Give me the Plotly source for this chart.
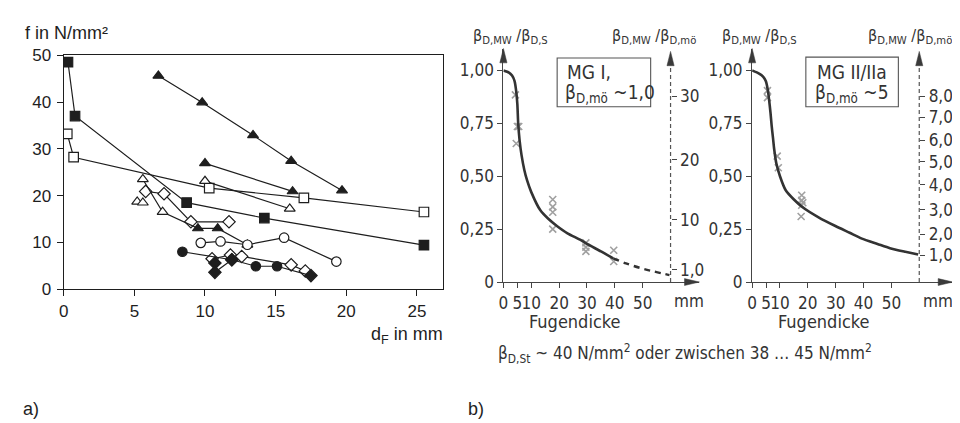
import plotly.graph_objects as go

W, H = 960, 423

# ---------------- chart a) data (d_F in mm, f in N/mm²) ----------------
sqf_x = [0.3, 0.8, 8.7, 14.2, 25.5]
sqf_y = [48.5, 37.0, 18.5, 15.2, 9.4]
sqo_x = [0.25, 0.7, 10.3, 17.0, 25.5]
sqo_y = [33.2, 28.2, 21.6, 19.5, 16.5]
trf1_x = [6.7, 9.8, 13.4, 16.1, 19.7]
trf1_y = [45.6, 39.9, 32.9, 27.4, 21.1]
trf2_x = [10.0, 16.2]
trf2_y = [26.9, 20.9]
tro1_x = [10.0, 16.0]
tro1_y = [23.1, 17.2]
tro2_x = [5.2, 5.6]
tro2_y = [18.7, 18.5]
trmix_x = [5.6, 7.0, 9.5, 10.9, 13.0]
trmix_y = [23.5, 16.5, 13.0, 13.0, 9.5]
dio1_x = [5.8, 7.1, 9.0, 11.7]
dio1_y = [20.9, 20.4, 14.4, 14.4]
cio_x = [9.7, 11.1, 13.0, 15.6, 19.3]
cio_y = [9.9, 10.2, 9.5, 11.0, 5.9]
cif_x = [8.4, 11.9, 13.6, 15.1, 17.5]
cif_y = [8.0, 6.3, 4.9, 4.9, 2.9]
dif_x = [10.7, 10.7, 11.9]
dif_y = [5.6, 3.6, 6.3]
dio2_x = [10.5, 11.8, 12.6, 16.1, 17.1]
dio2_y = [6.5, 7.3, 7.0, 5.2, 3.9]

a_xticks = [0, 5, 10, 15, 20, 25]
a_yticks = [0, 10, 20, 30, 40, 50]

# ---------------- chart b) data ----------------
fug_ticks = [0, 5, 10, 20, 30, 40, 50]
ratio_ticks = [0, 0.25, 0.5, 0.75, 1.0]
ratio_labels = ["0", "0,25", "0,50", "0,75", "1,00"]

# MG I curve (solid part and dashed extension)
mg1_x = [0, 2, 3.1, 4.0, 4.6, 5.0, 5.3, 5.8, 6.5, 7.5, 8.5, 10, 13.2, 16, 19.2, 23, 27.5, 30, 35, 39.4]
mg1_y = [1.0, 0.99, 0.976, 0.95, 0.90, 0.84, 0.75, 0.67, 0.60, 0.53, 0.48, 0.425, 0.34, 0.30, 0.265, 0.23, 0.20, 0.18, 0.145, 0.112]
mg1d_x = [39.4, 44, 49, 54, 59.6]
mg1d_y = [0.112, 0.088, 0.067, 0.05, 0.033]
mg1_mx = [4.3, 5.0, 5.5, 4.6, 17.7, 17.7, 17.7, 17.7, 29.6, 29.6, 29.6, 39.6, 39.6]
mg1_my = [0.885, 0.735, 0.735, 0.655, 0.39, 0.355, 0.33, 0.25, 0.185, 0.165, 0.145, 0.15, 0.097]
mg1_right_labels = ["1,0", "10", "20", "30"]
mg1_right_pos = [0.059, 0.295, 0.577, 0.877]

# MG II/IIa curve
mg2_x = [0, 2.5, 4.0, 4.9, 5.6, 6.1, 6.6, 7.0, 7.5, 7.9, 8.7, 10, 12, 15, 18, 24, 29.9, 35, 39.4, 45, 49.5, 55, 59.6]
mg2_y = [1.0, 0.985, 0.97, 0.95, 0.91, 0.86, 0.80, 0.74, 0.68, 0.63, 0.56, 0.50, 0.435, 0.39, 0.355, 0.305, 0.265, 0.233, 0.205, 0.18, 0.16, 0.143, 0.13]
mg2_mx = [5.5, 5.5, 9.0, 9.4, 17.8, 17.8, 17.8, 18.2, 17.6]
mg2_my = [0.905, 0.872, 0.595, 0.54, 0.41, 0.386, 0.363, 0.375, 0.31]
mg2_right_labels = ["1,0", "2,0", "3,0", "4,0", "5,0", "6,0", "7,0", "8,0"]
mg2_right_pos = [0.126, 0.225, 0.342, 0.459, 0.568, 0.671, 0.779, 0.878]


def px(x):
    return x / W


def py(y):
    return 1 - y / H


INK = "#1e1e1e"
GRAY = "#454545"
FA = "Liberation Sans, Arial, sans-serif"
FB = "DejaVu Sans Condensed, Liberation Sans Narrow, Arial Narrow, sans-serif"
TXT_B = "#333333"

fig = go.Figure()

OPEN = "white"


def add_a(x, y, symbols, fills):
    fig.add_trace(go.Scatter(
        x=x, y=y, xaxis="x", yaxis="y", mode="lines+markers",
        line=dict(color=INK, width=1.2),
        marker=dict(symbol=symbols, size=9.5, color=fills,
                    line=dict(color=INK, width=1.2)),
        showlegend=False, hoverinfo="skip"))


n = len
add_a(sqf_x, sqf_y, ["square"] * n(sqf_x), INK)
add_a(sqo_x, sqo_y, ["square"] * n(sqo_x), OPEN)
add_a(trf1_x, trf1_y, ["triangle-up"] * n(trf1_x), INK)
add_a(trf2_x, trf2_y, ["triangle-up"] * n(trf2_x), INK)
add_a(tro1_x, tro1_y, ["triangle-up"] * n(tro1_x), OPEN)
add_a(dio1_x, dio1_y, ["diamond"] * n(dio1_x), OPEN)
add_a(tro2_x, tro2_y, ["triangle-up"] * n(tro2_x), OPEN)
add_a(trmix_x, trmix_y, ["triangle-up"] * 5, [OPEN, OPEN, INK, INK, INK])
add_a(cio_x, cio_y, ["circle"] * n(cio_x), OPEN)
add_a(dio2_x, dio2_y, ["diamond"] * n(dio2_x), OPEN)
add_a(cif_x, cif_y, ["circle", "diamond", "circle", "circle", "diamond"], INK)
add_a(dif_x, dif_y, ["diamond"] * n(dif_x), INK)

# ---- chart b curves ----
CURVE = "#333333"
MK = "#a0a0a0"
for xa, ya, cx, cy, mx, my in [("x2", "y2", mg1_x, mg1_y, mg1_mx, mg1_my),
                               ("x3", "y3", mg2_x, mg2_y, mg2_mx, mg2_my)]:
    fig.add_trace(go.Scatter(x=mx, y=my, xaxis=xa, yaxis=ya, mode="markers",
                             marker=dict(symbol="x-thin-open", size=7, color=MK,
                                         line=dict(color=MK, width=1.6)),
                             showlegend=False, hoverinfo="skip"))
    fig.add_trace(go.Scatter(x=cx, y=cy, xaxis=xa, yaxis=ya, mode="lines",
                             line=dict(color=CURVE, width=2.6, shape="spline", smoothing=0.6),
                             showlegend=False, hoverinfo="skip"))
fig.add_trace(go.Scatter(x=mg1d_x, y=mg1d_y, xaxis="x2", yaxis="y2", mode="lines",
                         line=dict(color=CURVE, width=2.4, dash="6px,5px", shape="spline"),
                         showlegend=False, hoverinfo="skip"))
# invisible traces so the secondary right axes render
fig.add_trace(go.Scatter(x=[0], y=[0], xaxis="x2", yaxis="y4", mode="markers",
                         marker=dict(opacity=0), showlegend=False, hoverinfo="skip"))
fig.add_trace(go.Scatter(x=[0], y=[0], xaxis="x3", yaxis="y5", mode="markers",
                         marker=dict(opacity=0), showlegend=False, hoverinfo="skip"))

# ---- geometry (pixels) ----
A_L, A_R, A_T, A_B = 51, 432, 40, 285
B1_L, B1_R = 493, 690
B2_L, B2_R = 743, 945
B_T, B_B = 33, 277.5
mm_per_px = 1 / 2.8
b_unit_px = 221.5
b_ytop = (B_B - B_T) / b_unit_px
DASH_X = 60  # mm, position of the dashed secondary axis

axA = dict(showline=True, linecolor=INK, linewidth=1.3, ticks="outside", ticklen=6,
           tickcolor=INK, tickwidth=1.2, showgrid=False, zeroline=False,
           tickfont=dict(family=FA, size=17, color=INK))
axB = dict(showline=True, linecolor=GRAY, linewidth=1.3, ticks="outside", ticklen=5,
           tickcolor=GRAY, tickwidth=1.1, showgrid=False, zeroline=False,
           tickfont=dict(family=FB, size=17, color=TXT_B), tickangle=0)

fig.update_layout(
    width=W, height=H, margin=dict(l=0, r=0, t=0, b=0),
    paper_bgcolor="white", plot_bgcolor="rgba(0,0,0,0)",
    xaxis=dict(axA, domain=[px(A_L), px(A_R)], range=[0, (A_R - A_L) / 14.2],
               tickvals=a_xticks, anchor="y", mirror=True),
    yaxis=dict(axA, domain=[py(A_B), py(A_T)], range=[0, 50], tickvals=a_yticks,
               anchor="x", ticklabelstandoff=2, mirror=True),
    xaxis2=dict(axB, domain=[px(B1_L), px(B1_R)], range=[0, (B1_R - B1_L) * mm_per_px],
                tickvals=fug_ticks, anchor="y2"),
    yaxis2=dict(axB, domain=[py(B_B), py(B_T)], range=[0, b_ytop], tickvals=ratio_ticks,
                ticktext=ratio_labels, anchor="x2"),
    xaxis3=dict(axB, domain=[px(B2_L), px(B2_R)], range=[0, (B2_R - B2_L) * mm_per_px],
                tickvals=fug_ticks, anchor="y3"),
    yaxis3=dict(axB, domain=[py(B_B), py(B_T)], range=[0, b_ytop], tickvals=ratio_ticks,
                ticktext=ratio_labels, anchor="x3"),
    yaxis4=dict(axB, showline=False, overlaying="y2", anchor="free", side="right",
                position=px(B1_L + DASH_X / mm_per_px), range=[0, b_ytop],
                tickvals=mg1_right_pos, ticktext=mg1_right_labels),
    yaxis5=dict(axB, showline=False, overlaying="y3", anchor="free", side="right",
                position=px(B2_L + DASH_X / mm_per_px), range=[0, b_ytop],
                tickvals=mg2_right_pos, ticktext=mg2_right_labels),
)

shapes = []
anns = []
ARROW = "#3a3a3a"


def arrow_up(x, y_tip, hw=3.6, h=15):
    shapes.append(dict(type="path", xref="paper", yref="paper",
                       path=f"M {px(x)} {py(y_tip)} L {px(x - hw)} {py(y_tip + h)} "
                            f"L {px(x + hw)} {py(y_tip + h)} Z",
                       fillcolor=ARROW, line=dict(color=ARROW, width=0.5)))


def arrow_right(x_tip, y, hw=3.6, h=15):
    shapes.append(dict(type="path", xref="paper", yref="paper",
                       path=f"M {px(x_tip)} {py(y)} L {px(x_tip - h)} {py(y - hw)} "
                            f"L {px(x_tip - h)} {py(y + hw)} Z",
                       fillcolor=ARROW, line=dict(color=ARROW, width=0.5)))


for L, R in [(B1_L, B1_R), (B2_L, B2_R)]:
    xd = L + DASH_X / mm_per_px
    shapes.append(dict(type="line", xref="paper", yref="paper", x0=px(xd), x1=px(xd),
                       y0=py(B_B), y1=py(B_T + 12),
                       line=dict(color="#555555", width=1.2, dash="4px,3px")))
    arrow_up(L, B_T)
    arrow_up(xd, B_T + 3)
    arrow_right(R, B_B)

# boxes
shapes.append(dict(type="rect", xref="paper", yref="paper", x0=px(547), x1=px(641),
                   y0=py(94), y1=py(43), line=dict(color="#555555", width=1.1)))
shapes.append(dict(type="rect", xref="paper", yref="paper", x0=px(797), x1=px(890),
                   y0=py(94), y1=py(42), line=dict(color="#555555", width=1.1)))


def txt(t, x, y, size=17, fam=FB, color=TXT_B, xanchor="center"):
    anns.append(dict(text=t, xref="paper", yref="paper", x=px(x), y=py(y), xanchor=xanchor,
                     yanchor="middle", showarrow=False,
                     font=dict(family=fam, size=size, color=color)))


txt("f in N/mm²", 10, 17, 18, FA, INK, "left")
txt("d<sub>F</sub> in mm", 358, 333, 18, FA, INK, "left")
txt("a)", 8, 410, 18, FA, INK, "left")
txt("b)", 455, 410, 18, FA, INK, "left")

txt("β<sub>D,MW</sub> /β<sub>D,S</sub>", 500, 20, 16)
txt("β<sub>D,MW</sub> /β<sub>D,mö</sub>", 644, 20, 16)
txt("β<sub>D,MW</sub> /β<sub>D,S</sub>", 750, 20, 16)
txt("β<sub>D,MW</sub> /β<sub>D,mö</sub>", 857, 20, 16, xanchor="left")
txt("MG I,", 555, 58, 19, xanchor="left")
txt("β<sub>D,mö</sub> ~1,0", 553, 80, 19, xanchor="left")
txt("MG II/IIa", 843, 58, 19)
txt("β<sub>D,mö</sub> ~5", 843, 80, 19)
txt("mm", 680, 297)
txt("mm", 930, 297)
txt("Fugendicke", 565, 319, 18)
txt("Fugendicke", 815, 319, 18)
txt("β<sub>D,St</sub> ~ 40 N/mm<sup>2</sup> oder zwischen 38 … 45 N/mm<sup>2</sup>", 676, 352, 17)

fig.update_layout(shapes=shapes, annotations=anns)
fig.write_html("out.html")
